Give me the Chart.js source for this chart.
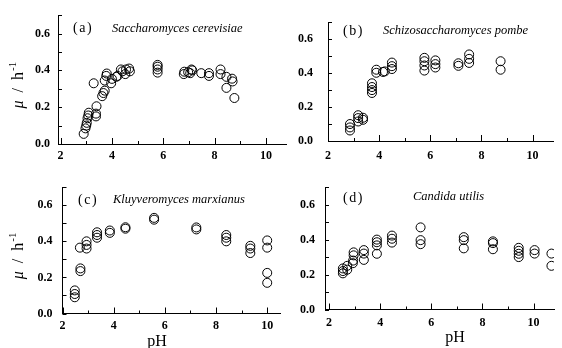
<!DOCTYPE html>
<html><head><meta charset="utf-8">
<script src="https://cdn.jsdelivr.net/npm/chart.js@4.4.0/dist/chart.umd.min.js"></script>
<style>
html,body{margin:0;padding:0;background:#fff;}
#wrap{position:relative;width:562px;height:348px;overflow:hidden;background:#fff}
canvas{position:absolute}
</style></head><body>
<div id="wrap">
<canvas id="ca" width="292" height="170" style="left:0px;top:0px"></canvas>
<canvas id="cb" width="282" height="170" style="left:280px;top:0px"></canvas>
<canvas id="cc" width="292" height="178" style="left:0px;top:170px"></canvas>
<canvas id="cd" width="282" height="178" style="left:280px;top:170px"></canvas>
</div>
<script>
// ---------- DATA ----------
const phA = [2.90,2.97,3.00,3.02,3.05,3.08,3.10,3.29,3.38,3.38,3.40,3.62,3.67,3.72,3.72,3.78,3.80,3.97,4.00,4.17,4.22,4.35,4.41,4.52,4.55,4.67,4.70,5.78,5.78,5.78,5.78,6.80,6.82,6.97,7.05,7.10,7.13,7.48,7.78,7.78,8.23,8.23,8.46,8.46,8.68,8.70,8.77];
const muA = [0.055,0.085,0.10,0.115,0.14,0.155,0.17,0.33,0.15,0.165,0.205,0.26,0.277,0.29,0.345,0.37,0.383,0.33,0.354,0.365,0.37,0.405,0.395,0.38,0.405,0.41,0.395,0.43,0.42,0.405,0.388,0.38,0.393,0.39,0.385,0.405,0.40,0.385,0.385,0.37,0.405,0.38,0.365,0.305,0.355,0.34,0.25];

const phB = [2.86,2.86,2.86,3.18,3.18,3.18,3.37,3.37,3.72,3.72,3.72,3.72,3.89,3.89,4.15,4.22,4.50,4.50,4.50,5.77,5.77,5.77,5.77,6.20,6.20,6.20,7.10,7.10,7.52,7.52,7.52,8.75,8.75];
const muB = [0.10,0.08,0.062,0.152,0.135,0.115,0.137,0.125,0.34,0.318,0.30,0.283,0.42,0.402,0.407,0.41,0.462,0.441,0.424,0.49,0.47,0.445,0.415,0.475,0.453,0.433,0.458,0.443,0.51,0.484,0.46,0.47,0.42];

const phC = [2.48,2.48,2.48,2.70,2.70,2.68,2.94,2.94,2.94,3.35,3.35,3.35,3.85,3.85,4.46,4.46,5.58,5.58,7.23,7.23,8.40,8.40,8.40,9.34,9.34,9.34,10.0,10.0,10.0,10.0];
const muC = [0.128,0.108,0.09,0.25,0.235,0.365,0.40,0.38,0.36,0.45,0.435,0.42,0.46,0.447,0.478,0.47,0.53,0.52,0.477,0.466,0.435,0.42,0.40,0.375,0.36,0.335,0.405,0.365,0.225,0.17];

const phD = [2.54,2.54,2.54,2.71,2.71,2.96,2.96,2.94,2.93,3.36,3.36,3.36,3.87,3.87,3.87,3.87,4.46,4.46,4.46,5.58,5.58,5.58,7.27,7.27,7.27,8.41,8.41,8.41,9.42,9.42,9.42,9.42,10.04,10.04,10.7,10.7];
const muD = [0.235,0.22,0.207,0.25,0.228,0.327,0.31,0.28,0.265,0.34,0.32,0.284,0.40,0.385,0.367,0.319,0.423,0.405,0.383,0.47,0.397,0.374,0.414,0.397,0.35,0.39,0.38,0.345,0.353,0.336,0.319,0.30,0.34,0.32,0.32,0.25];

const letters = ['(a)','(b)','(c)','(d)'];
const species = ['Saccharomyces cerevisiae','Schizosaccharomyces pombe','Kluyveromyces marxianus','Candida utilis'];
const yTickValues = [0.0,0.2,0.4,0.6];
const xTickValues = [2,4,6,8,10];
const xAxisTitle = 'pH';
const yTitleParts = ['\u03bc',' / h','-1'];

// ---------- LAYOUT ----------
const SERIF = "'Liberation Serif','Times New Roman',serif";
const layouts = [
  {id:'ca', ph:phA, mu:muA, yW:58,   xH:26,   padT:7.5, padR:4.4, xmin:1.9,  xmax:10.8, yPad:8,  xPad:5, lx:15,   ly:13.5, nx:54,   ny:13.5, yTitle:true,  xTitle:null},
  {id:'cb', ph:phB, mu:muB, yW:48,   xH:29,   padT:6,   padR:9,   xmin:2.0,  xmax:10.8, yPad:15, xPad:8, lx:15,   ly:9,    nx:55,   ny:8.5,  yTitle:false, xTitle:null},
  {id:'cc', ph:phC, mu:muC, yW:62.5, xH:34.5, padT:6,   padR:12,  xmin:2.0,  xmax:10.5, yPad:10, xPad:5, lx:15.5, ly:13,   nx:50.5, ny:13,   yTitle:true,  xTitle:94.5},
  {id:'cd', ph:phD, mu:muD, yW:45,   xH:38.5, padT:5,   padR:8,   xmin:1.84, xmax:10.8, yPad:10, xPad:6, lx:18,   ly:11,   nx:88,   ny:10,   yTitle:false, xTitle:130}
];

const inwardTicks = {
  id:'inwardTicks',
  beforeDatasetsDraw(chart){
    const ctx = chart.ctx, a = chart.chartArea;
    const xs = chart.scales.x, ys = chart.scales.y;
    ctx.save();
    ctx.strokeStyle = '#000'; ctx.lineWidth = 1;
    ctx.beginPath();
    xs.ticks.forEach(t=>{
      const px = Math.round(xs.getPixelForValue(t.value)) + 0.5;
      const len = (Math.round(t.value) % 2 === 0) ? 6 : 3;
      ctx.moveTo(px, a.bottom); ctx.lineTo(px, a.bottom - len);
    });
    ys.ticks.forEach(t=>{
      const py = Math.round(ys.getPixelForValue(t.value)) + 0.5;
      ctx.moveTo(a.left, py); ctx.lineTo(a.left + 4, py);
    });
    ctx.stroke();
    ctx.restore();
  }
};

const panelText = {
  id:'panelText',
  afterDraw(chart, args, opts){
    const ctx = chart.ctx, a = chart.chartArea, L = opts.L;
    ctx.save();
    ctx.fillStyle = '#000';
    ctx.textBaseline = 'middle';
    ctx.textAlign = 'left';
    ctx.font = '14px ' + SERIF;
    try { ctx.letterSpacing = '1.5px'; } catch(e){}
    ctx.fillText(opts.letter, a.left + L.lx, a.top + L.ly);
    try { ctx.letterSpacing = '0px'; } catch(e){}
    ctx.font = 'italic 12.5px ' + SERIF;
    ctx.fillText(opts.name, a.left + L.nx, a.top + L.ny);
    if (L.xTitle !== null) {
      ctx.font = '16px ' + SERIF;
      ctx.textAlign = 'center';
      ctx.fillText(xAxisTitle, a.left + L.xTitle, a.bottom + 28);
    }
    if (L.yTitle) {
      ctx.translate(19, (a.top + a.bottom)/2 + 6);
      ctx.rotate(-Math.PI/2);
      ctx.textAlign = 'left';
      ctx.textBaseline = 'middle';
      const f1 = 'italic 16px ' + SERIF, f2 = '16px ' + SERIF, f3 = '11px ' + SERIF;
      ctx.font = f1; const w1 = ctx.measureText(yTitleParts[0]).width;
      ctx.font = f2; const t2 = yTitleParts[1].replace(' / ', '  /  '); const w2 = ctx.measureText(t2).width;
      ctx.font = f3; const w3 = ctx.measureText(yTitleParts[2]).width;
      let x = -(w1 + w2 + w3)/2;
      ctx.font = f1; ctx.fillText(yTitleParts[0], x, 0); x += w1;
      ctx.font = f2; ctx.fillText(t2, x, 0); x += w2;
      ctx.font = f3; ctx.fillText(yTitleParts[2], x + 1, -6);
    }
    ctx.restore();
  }
};

layouts.forEach((L, i) => {
  const pts = L.ph.map((p, k) => ({x:p, y:L.mu[k]}));
  new Chart(document.getElementById(L.id), {
    type:'scatter',
    data:{datasets:[{
      data:pts,
      pointRadius:4.5, pointHoverRadius:4.5,
      pointBorderWidth:1, pointBorderColor:'#000',
      pointBackgroundColor:'rgba(0,0,0,0)', showLine:false
    }]},
    options:{
      responsive:false, animation:false, events:[],
      layout:{padding:{left:0, top:L.padT, right:L.padR, bottom:0}},
      plugins:{legend:{display:false}, tooltip:{enabled:false},
        panelText:{letter:letters[i], name:species[i], L:L}},
      scales:{
        x:{type:'linear', min:L.xmin, max:L.xmax,
           afterFit(s){ s.height = L.xH; },
           grid:{display:true, drawOnChartArea:false, drawTicks:false, color:'rgba(0,0,0,0)'},
           border:{display:true, color:'#000', width:1},
           ticks:{stepSize:1, includeBounds:false, autoSkip:false, maxRotation:0, padding:L.xPad,
             color:'#000', font:{family:SERIF, size:12, weight:'bold'},
             callback:(v)=> xTickValues.includes(Math.round(v)) && Math.abs(v-Math.round(v))<1e-6 ? String(Math.round(v)) : ''}
        },
        y:{type:'linear', min:0, max:0.7,
           afterFit(s){ s.width = L.yW; },
           grid:{display:true, drawOnChartArea:false, drawTicks:false, color:'rgba(0,0,0,0)'},
           border:{display:true, color:'#000', width:1},
           ticks:{stepSize:0.1, autoSkip:false, padding:L.yPad,
             color:'#000', font:{family:SERIF, size:12, weight:'bold'},
             callback:(v)=>{ const r = Math.round(v*10)/10; return yTickValues.some(t=>Math.abs(t-r)<1e-6) && Math.abs(v-r)<1e-6 ? r.toFixed(1) : ''; }}
        }
      }
    },
    plugins:[inwardTicks, panelText]
  });
});
</script>
</body></html>
